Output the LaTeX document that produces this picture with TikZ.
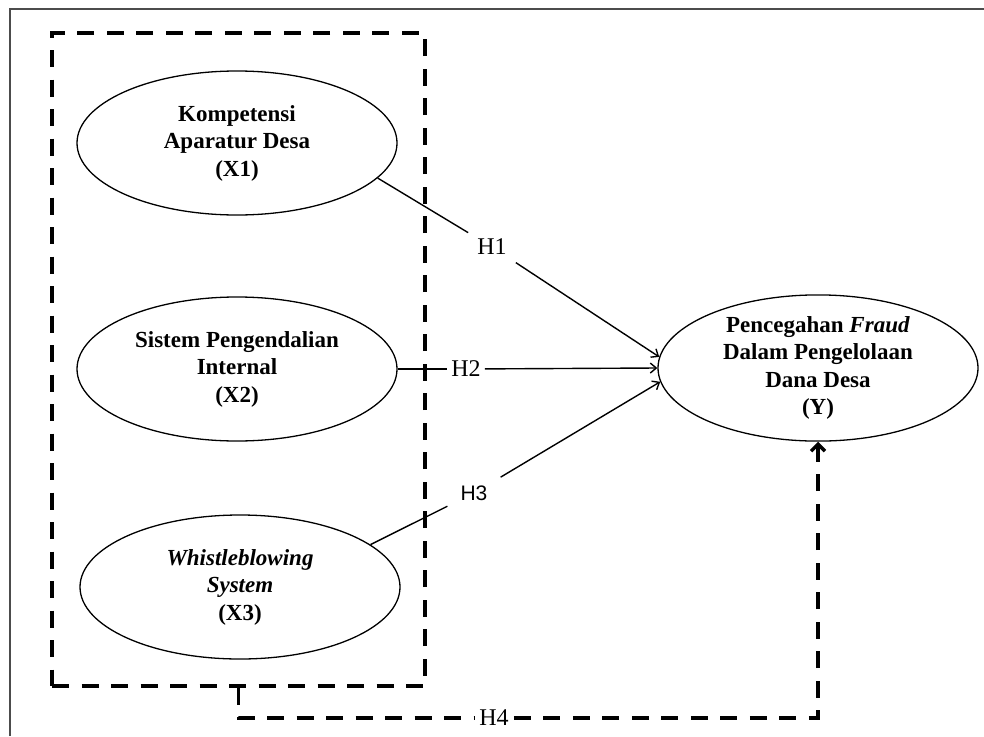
\documentclass[tikz,border=0pt]{standalone}
\usepackage{fontspec}
\setmainfont{Liberation Serif}
\newfontfamily\hsans{Liberation Sans}
\usetikzlibrary{shapes.geometric,arrows.meta}
\begin{document}
\begin{tikzpicture}[x=1pt,y=-1pt,
  var/.style={ellipse,draw,line width=1.3pt,minimum width=320pt,minimum height=144pt,inner sep=0pt,
    align=center,font=\fontsize{23}{27.5}\selectfont\bfseries},
  hlab/.style={fill=white,inner sep=6pt,font=\fontsize{24}{28}\selectfont},
  path/.style={line width=1.4pt,-{Straight Barb[length=6pt,width=10pt]}},
  thickdash/.style={line width=3.4pt,dash pattern=on 17pt off 12.5pt},
]
\useasboundingbox (0,0) rectangle (984,736);
% outer frame
\draw[line width=1.8pt,black!70] (10,736) -- (10,9) -- (984,9);
% dashed group box
\node[draw,thickdash,minimum width=373pt,minimum height=653pt,inner sep=0pt] (box) at (238.5,359.5) {};
% variables
\node[var] (X1) at (237,143) {Kompetensi\\Aparatur Desa\\(X1)};
\node[var] (X2) at (237,369) {Sistem Pengendalian\\Internal\\(X2)};
\node[var] (X3) at (240,587) {\textit{Whistleblowing}\\\textit{System}\\(X3)};
\node[var] (Y) at (818,368) {Pencegahan \textit{Fraud}\\Dalam Pengelolaan\\Dana Desa\\(Y)};
% hypothesis labels
\node[hlab,inner sep=9pt] (h1) at (492,247) {H1};
\node[hlab,inner xsep=4pt] (h2) at (466,369) {H2};
\node[hlab,inner sep=13pt,font=\hsans\fontsize{21}{24}\selectfont] (h3) at (474,493) {H3};
\node[hlab,inner sep=5pt] (h4) at (494,718) {H4};
% connectors
\draw[line width=1.4pt] (X1.-14) -- (h1);
\draw[path] (h1) -- (Y.176);
\draw[line width=1.4pt] (X2.east) -- (h2);
\draw[path] (h2) -- (Y.west);
\draw[line width=1.4pt] (X3.18) -- (h3);
\draw[path] (h3) -- (Y.185);
\coordinate (c1) at (238.5,718);
\draw[thickdash] (box.south) -- (c1) -- (h4);
\draw[thickdash,-{Straight Barb[length=7pt,width=14pt]}] (h4) -| (Y.south);
\end{tikzpicture}
\end{document}
